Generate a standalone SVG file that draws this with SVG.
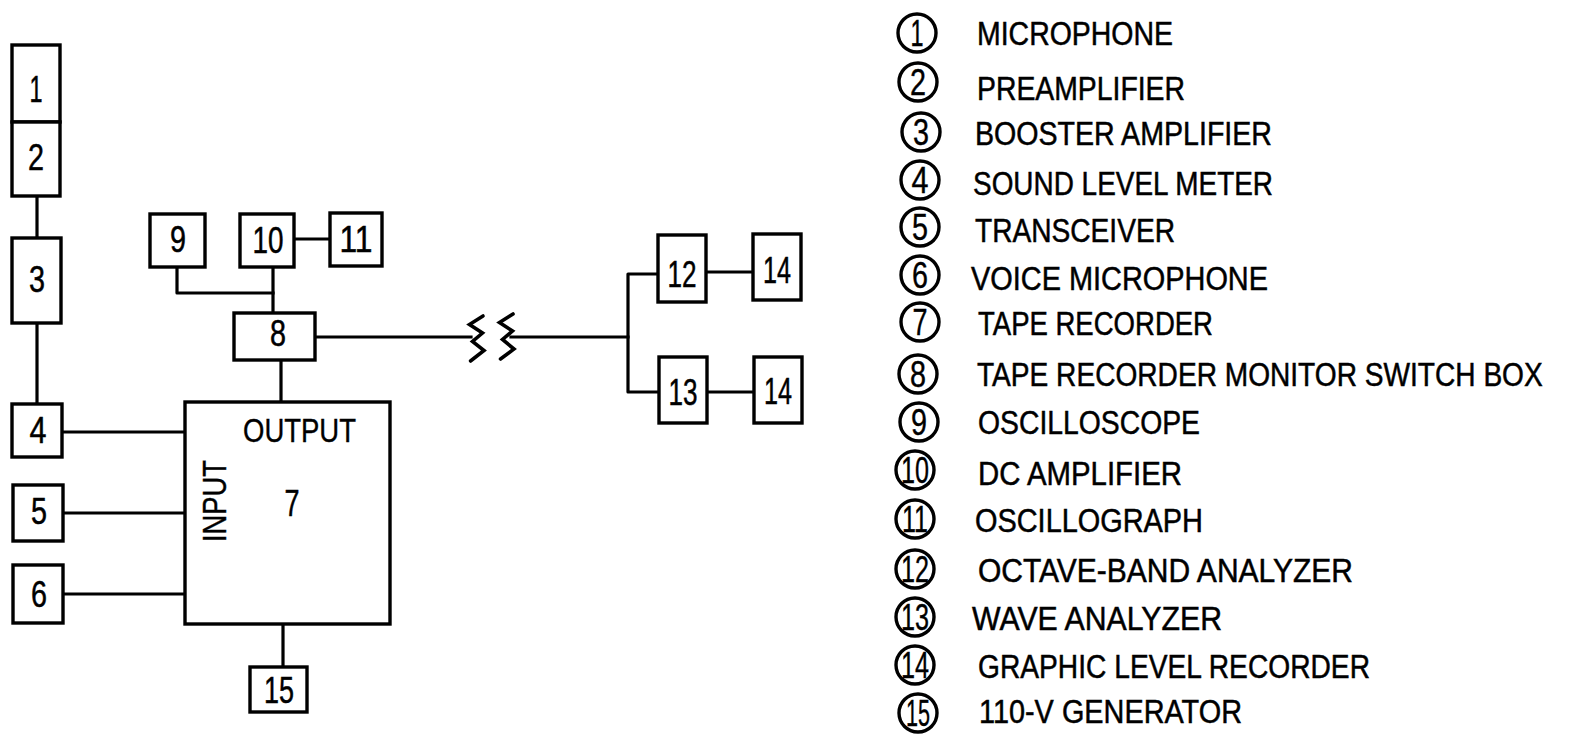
<svg xmlns="http://www.w3.org/2000/svg" width="1573" height="737" viewBox="0 0 1573 737">
<style>
.box{fill:#fff;stroke:#000;stroke-width:3.4}
.ln{fill:none;stroke:#000;stroke-width:3.2;stroke-linecap:square;stroke-linejoin:round}
.zz{fill:none;stroke:#000;stroke-width:3.6;stroke-linecap:round;stroke-linejoin:miter}
.num{font-family:"Liberation Sans",Arial,sans-serif;font-size:36px;text-anchor:middle;fill:#000;stroke:#000;stroke-width:0.5}
.lbl{font-family:"Liberation Sans",Arial,sans-serif;font-size:34px;fill:#000;stroke:#000;stroke-width:0.4}
.leg{font-family:"Liberation Sans",Arial,sans-serif;font-size:33px;fill:#000;stroke:#000;stroke-width:0.5}
.cir{fill:none;stroke:#000;stroke-width:3.4}
.cnum{font-family:"Liberation Sans",Arial,sans-serif;font-size:36px;text-anchor:middle;fill:#000;stroke:#000;stroke-width:0.4}
</style>
<rect width="1573" height="737" fill="#fff"/>
<g id="connectors">
<line class="ln" x1="37" y1="196" x2="37" y2="238"/>
<line class="ln" x1="37" y1="323" x2="37" y2="404"/>
<line class="ln" x1="62" y1="432" x2="185" y2="432"/>
<line class="ln" x1="63" y1="513" x2="185" y2="513"/>
<line class="ln" x1="63" y1="594" x2="185" y2="594"/>
<line class="ln" x1="281" y1="360" x2="281" y2="402"/>
<line class="ln" x1="283" y1="624" x2="283" y2="667"/>
<polyline class="ln" points="177,267 177,293 273,293"/>
<line class="ln" x1="273" y1="267" x2="273" y2="313"/>
<line class="ln" x1="294" y1="239" x2="330" y2="239"/>
<line class="ln" x1="315" y1="337" x2="471" y2="337"/>
<polyline class="zz" points="483,316 469.5,324.5 482.5,333 472.5,341.5 484,350.5 470.5,361"/>
<polyline class="zz" points="513,314 499.5,322.5 512.5,331 502.5,339.5 514,349 500.5,359"/>
<line class="ln" x1="511" y1="337" x2="628" y2="337"/>
<polyline class="ln" points="658,274 628,274 628,392 659,392"/>
<line class="ln" x1="706" y1="272" x2="753" y2="272"/>
<line class="ln" x1="707" y1="392" x2="754" y2="392"/>
</g>
<g id="node1"><rect class="box" x="12" y="45" width="48" height="77"/><text class="num" x="36" y="102" textLength="13" lengthAdjust="spacingAndGlyphs">1</text></g>
<g id="node2"><rect class="box" x="12" y="122" width="48" height="74"/><text class="num" x="36" y="170" textLength="16" lengthAdjust="spacingAndGlyphs">2</text></g>
<g id="node3"><rect class="box" x="12" y="238" width="49" height="85"/><text class="num" x="37" y="292" textLength="16" lengthAdjust="spacingAndGlyphs">3</text></g>
<g id="node4"><rect class="box" x="12" y="404" width="50" height="53"/><text class="num" x="38" y="443" textLength="17" lengthAdjust="spacingAndGlyphs">4</text></g>
<g id="node5"><rect class="box" x="13" y="485" width="50" height="56"/><text class="num" x="39" y="524" textLength="16" lengthAdjust="spacingAndGlyphs">5</text></g>
<g id="node6"><rect class="box" x="13" y="565" width="50" height="58"/><text class="num" x="39" y="607" textLength="16" lengthAdjust="spacingAndGlyphs">6</text></g>
<g id="node7"><rect class="box" x="185" y="402" width="205" height="222"/>
<text class="lbl" x="243" y="442" textLength="113" lengthAdjust="spacingAndGlyphs">OUTPUT</text>
<text class="lbl" transform="translate(226,542) rotate(-90)" textLength="82" lengthAdjust="spacingAndGlyphs">INPUT</text>
<text class="num" x="292" y="516" textLength="15" lengthAdjust="spacingAndGlyphs">7</text></g>
<g id="node8"><rect class="box" x="234" y="313" width="81" height="47"/><text class="num" x="278" y="346" textLength="16" lengthAdjust="spacingAndGlyphs">8</text></g>
<g id="node9"><rect class="box" x="150" y="214" width="55" height="53"/><text class="num" x="178" y="252" textLength="16" lengthAdjust="spacingAndGlyphs">9</text></g>
<g id="node10"><rect class="box" x="240" y="214" width="54" height="53"/><text class="num" x="268" y="253" textLength="31" lengthAdjust="spacingAndGlyphs">10</text></g>
<g id="node11"><rect class="box" x="330" y="213" width="52" height="53"/><text class="num" x="356" y="252" textLength="33" lengthAdjust="spacingAndGlyphs">11</text></g>
<g id="node12"><rect class="box" x="658" y="235" width="48" height="67"/><text class="num" x="682" y="287" textLength="29" lengthAdjust="spacingAndGlyphs">12</text></g>
<g id="node14a"><rect class="box" x="753" y="234" width="48" height="66"/><text class="num" x="777" y="283" textLength="28" lengthAdjust="spacingAndGlyphs">14</text></g>
<g id="node13"><rect class="box" x="659" y="357" width="48" height="66"/><text class="num" x="683" y="405" textLength="29" lengthAdjust="spacingAndGlyphs">13</text></g>
<g id="node14b"><rect class="box" x="754" y="357" width="48" height="66"/><text class="num" x="778" y="404" textLength="28" lengthAdjust="spacingAndGlyphs">14</text></g>
<g id="node15"><rect class="box" x="250" y="667" width="57" height="45"/><text class="num" x="279" y="703" textLength="30" lengthAdjust="spacingAndGlyphs">15</text></g>
<g id="legend">
<g id="leg1"><circle class="cir" cx="917" cy="33" r="19"/><text class="cnum" x="917" y="46" textLength="13" lengthAdjust="spacingAndGlyphs">1</text><text class="leg" x="977" y="45" textLength="196" lengthAdjust="spacingAndGlyphs">MICROPHONE</text></g>
<g id="leg2"><circle class="cir" cx="918" cy="82" r="19"/><text class="cnum" x="918" y="95" textLength="16" lengthAdjust="spacingAndGlyphs">2</text><text class="leg" x="977" y="100" textLength="208" lengthAdjust="spacingAndGlyphs">PREAMPLIFIER</text></g>
<g id="leg3"><circle class="cir" cx="921" cy="132" r="19"/><text class="cnum" x="921" y="145" textLength="16" lengthAdjust="spacingAndGlyphs">3</text><text class="leg" x="975" y="145" textLength="297" lengthAdjust="spacingAndGlyphs">BOOSTER AMPLIFIER</text></g>
<g id="leg4"><circle class="cir" cx="920" cy="180" r="19"/><text class="cnum" x="920" y="193" textLength="17" lengthAdjust="spacingAndGlyphs">4</text><text class="leg" x="973" y="195" textLength="300" lengthAdjust="spacingAndGlyphs">SOUND LEVEL METER</text></g>
<g id="leg5"><circle class="cir" cx="920" cy="227" r="19"/><text class="cnum" x="920" y="240" textLength="16" lengthAdjust="spacingAndGlyphs">5</text><text class="leg" x="975" y="242" textLength="200" lengthAdjust="spacingAndGlyphs">TRANSCEIVER</text></g>
<g id="leg6"><circle class="cir" cx="920" cy="275" r="19"/><text class="cnum" x="920" y="288" textLength="16" lengthAdjust="spacingAndGlyphs">6</text><text class="leg" x="971" y="290" textLength="297" lengthAdjust="spacingAndGlyphs">VOICE MICROPHONE</text></g>
<g id="leg7"><circle class="cir" cx="920" cy="322" r="19"/><text class="cnum" x="920" y="335" textLength="15" lengthAdjust="spacingAndGlyphs">7</text><text class="leg" x="978" y="335" textLength="235" lengthAdjust="spacingAndGlyphs">TAPE RECORDER</text></g>
<g id="leg8"><circle class="cir" cx="918" cy="374" r="19"/><text class="cnum" x="918" y="387" textLength="16" lengthAdjust="spacingAndGlyphs">8</text><text class="leg" transform="translate(977,386) scale(0.852,1)">TAPE RECORDER MONITOR SWITCH BOX</text></g>
<g id="leg9"><circle class="cir" cx="919" cy="422" r="19"/><text class="cnum" x="919" y="435" textLength="16" lengthAdjust="spacingAndGlyphs">9</text><text class="leg" x="978" y="434" textLength="222" lengthAdjust="spacingAndGlyphs">OSCILLOSCOPE</text></g>
<g id="leg10"><circle class="cir" cx="915" cy="470" r="19"/><text class="cnum" x="915" y="483" textLength="28" lengthAdjust="spacingAndGlyphs">10</text><text class="leg" x="978" y="485" textLength="204" lengthAdjust="spacingAndGlyphs">DC AMPLIFIER</text></g>
<g id="leg11"><circle class="cir" cx="915" cy="519" r="19"/><text class="cnum" x="915" y="532" textLength="26" lengthAdjust="spacingAndGlyphs">11</text><text class="leg" x="975" y="532" textLength="228" lengthAdjust="spacingAndGlyphs">OSCILLOGRAPH</text></g>
<g id="leg12"><circle class="cir" cx="915" cy="569" r="19"/><text class="cnum" x="915" y="582" textLength="28" lengthAdjust="spacingAndGlyphs">12</text><text class="leg" x="978" y="582" textLength="375" lengthAdjust="spacingAndGlyphs">OCTAVE-BAND ANALYZER</text></g>
<g id="leg13"><circle class="cir" cx="915" cy="617" r="19"/><text class="cnum" x="915" y="630" textLength="28" lengthAdjust="spacingAndGlyphs">13</text><text class="leg" x="972" y="630" textLength="250" lengthAdjust="spacingAndGlyphs">WAVE ANALYZER</text></g>
<g id="leg14"><circle class="cir" cx="915" cy="665" r="19"/><text class="cnum" x="915" y="678" textLength="28" lengthAdjust="spacingAndGlyphs">14</text><text class="leg" x="978" y="678" textLength="392" lengthAdjust="spacingAndGlyphs">GRAPHIC LEVEL RECORDER</text></g>
<g id="leg15"><circle class="cir" cx="918" cy="713" r="19"/><text class="cnum" x="918" y="726" textLength="24" lengthAdjust="spacingAndGlyphs">15</text><text class="leg" x="979" y="723" textLength="263" lengthAdjust="spacingAndGlyphs">110-V GENERATOR</text></g>
</g>
</svg>
